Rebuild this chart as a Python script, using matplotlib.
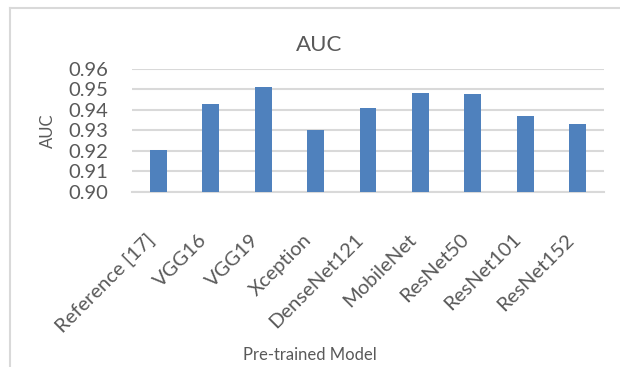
import matplotlib
matplotlib.use("Agg")
import matplotlib.pyplot as plt
from matplotlib.lines import Line2D
from matplotlib.transforms import ScaledTranslation

models = ["Reference [17]", "VGG16", "VGG19", "Xception", "DenseNet121",
          "MobileNet", "ResNet50", "ResNet101", "ResNet152"]
auc = [0.9204, 0.9427, 0.9512, 0.9302, 0.9409, 0.9483, 0.9478, 0.9369, 0.9333]
yticks = [0.90, 0.91, 0.92, 0.93, 0.94, 0.95, 0.96]

plt.rcParams["font.family"] = ["Lato", "DejaVu Sans"]
text_color = "#595959"
grid_color = "#D9D9D9"

fig = plt.figure(figsize=(6.2, 3.67), dpi=100)
ax = fig.add_axes([132 / 620, 1 - 191.7 / 367, (604 - 132) / 620, (191.7 - 69) / 367])

x = list(range(len(models)))
ax.bar(x, auc, width=0.32, color="#4F81BD", zorder=3)

ax.set_ylim(0.90, 0.96)
ax.set_xlim(-0.5, len(models) - 0.5)
ax.set_yticks(yticks)
ax.set_yticklabels([f"{v:.2f}" for v in yticks], fontsize=14.5, color=text_color)
ax.set_xticks(x)
ax.set_xticklabels(models, rotation=45, ha="right", va="top", rotation_mode="anchor",
                   fontsize=14.5, color=text_color)
ax.tick_params(axis="both", length=0)
ax.tick_params(axis="x", pad=18)
ax.tick_params(axis="y", pad=17)
shift = ScaledTranslation(-13 / 100, -14 / 100, fig.dpi_scale_trans)
for lbl in ax.get_xticklabels():
    lbl.set_transform(lbl.get_transform() + shift)

ax.yaxis.grid(True, color=grid_color, linewidth=1.5, zorder=0)
for side in ["top", "right", "left"]:
    ax.spines[side].set_visible(False)
ax.spines["bottom"].set_color(grid_color)
ax.spines["bottom"].set_linewidth(1.5)

fig.text(319 / 620, 1 - 45 / 367, "AUC", fontsize=16, color=text_color,
         ha="center", va="center")
ax.set_ylabel("AUC", fontsize=12, color=text_color, labelpad=9)
fig.text(310 / 620, 1 - 355 / 367, "Pre-trained Model", fontsize=12,
         color=text_color, ha="center", va="center")

# chart frame
fig.add_artist(Line2D([10 / 620, 1], [1 - 8 / 367] * 2, transform=fig.transFigure,
                      color=grid_color, linewidth=1.5))
fig.add_artist(Line2D([10 / 620] * 2, [0, 1 - 8 / 367], transform=fig.transFigure,
                      color=grid_color, linewidth=1.5))

fig.savefig("out.png", dpi=100)
